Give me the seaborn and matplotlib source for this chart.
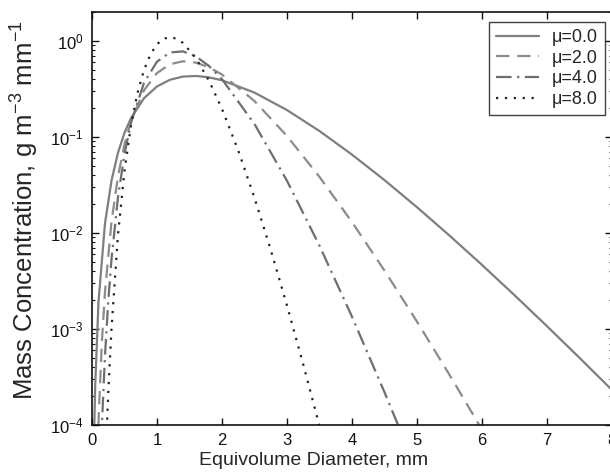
import matplotlib
matplotlib.use("Agg")
import matplotlib.pyplot as plt
import seaborn as sns
from matplotlib.ticker import LogLocator, FixedLocator

# Mass concentration spectra (g m^-3 mm^-1) for gamma drop size distributions
d_mu0 = [0.03, 0.04, 0.05, 0.1, 0.2, 0.3, 0.4, 0.5, 0.6, 0.8, 1.0, 1.2, 1.4, 1.6,
         1.8, 2.0, 2.5, 3.0, 3.5, 4.0, 4.5, 5.0, 5.5, 6.0, 6.5, 7.0, 7.5, 8.0]
m_mu0 = [5.9e-5, 1.37e-4, 2.62e-4, 1.905e-3, 0.01256, 0.03495, 0.0683, 0.110, 0.1567,
         0.2526, 0.3353, 0.3938, 0.4251, 0.4314, 0.4174, 0.3893, 0.2896, 0.1907,
         0.1154, 0.0656, 0.0356, 0.0186, 9.43e-3, 4.67e-3, 2.26e-3, 1.075e-3,
         5.04e-4, 2.33e-4]

d_mu2 = [0.08, 0.1, 0.15, 0.2, 0.3, 0.4, 0.5, 0.6, 0.8, 1.0, 1.2, 1.4, 1.6, 1.8, 2.0,
         2.5, 3.0, 3.5, 4.0, 4.5, 5.0, 5.5, 6.0, 6.1]
m_mu2 = [3.6e-5, 1.08e-4, 6.88e-4, 2.434e-3, 0.01302, 0.0387, 0.0832, 0.146, 0.3053,
         0.4626, 0.5716, 0.6135, 0.5937, 0.5314, 0.4468, 0.2369, 0.1025, 0.0385,
         0.01304, 4.08e-3, 1.201e-3, 3.36e-4, 9.03e-5, 6.9e-5]

d_mu4 = [0.13, 0.15, 0.2, 0.25, 0.3, 0.4, 0.5, 0.6, 0.8, 1.0, 1.2, 1.4, 1.6, 1.8,
         2.0, 2.5, 3.0, 3.5, 4.0, 4.5, 4.75]
m_mu4 = [3.4e-5, 9.15e-5, 5.26e-4, 1.93e-3, 5.31e-3, 0.0235, 0.0661, 0.140, 0.3654,
         0.6071, 0.7582, 0.7774, 0.6899, 0.5483, 0.3996, 0.1367, 0.0351, 7.41e-3,
         1.353e-3, 2.21e-4, 8.65e-5]

d_mu8 = [0.2, 0.25, 0.3, 0.4, 0.5, 0.6, 0.7, 0.8, 0.9, 1.0, 1.1, 1.2, 1.3, 1.4, 1.6,
         1.8, 2.0, 2.25, 2.5, 2.75, 3.0, 3.25, 3.5]
m_mu8 = [2.9e-5, 2.13e-4, 1.0e-3, 9.5e-3, 0.0441, 0.1311, 0.2856, 0.4961, 0.7242,
         0.9224, 1.052, 1.095, 1.055, 0.9535, 0.6617, 0.3863, 0.1967, 0.0726,
         0.02335, 6.73e-3, 1.77e-3, 4.32e-4, 9.85e-5]

labels = ["\u03bc=0.0", "\u03bc=2.0", "\u03bc=4.0", "\u03bc=8.0"]
x_ticks = [0, 1, 2, 3, 4, 5, 6, 7, 8]

sns.set_style("ticks")
plt.rcParams["font.family"] = ["Liberation Sans", "DejaVu Sans"]
plt.rcParams["mathtext.fontset"] = "custom"
plt.rcParams["mathtext.rm"] = "Liberation Sans"
plt.rcParams["mathtext.it"] = "Liberation Sans:italic"
plt.rcParams["mathtext.bf"] = "Liberation Sans:bold"

fig = plt.figure(figsize=(6.10, 4.72), dpi=100)
ax = fig.add_axes([0.1508, 0.0996, 0.852, 0.875])

series = [
    (d_mu0, m_mu0, "#7f7f7f", "-"),
    (d_mu2, m_mu2, "#8c8c8c", (0, (6, 3.5))),
    (d_mu4, m_mu4, "#6e6e6e", (0, (7, 2.5, 1, 2.5))),
    (d_mu8, m_mu8, "#222222", (0, (1, 3))),
]
for (d, m, c, ls), lab in zip(series, labels):
    sns.lineplot(x=d, y=m, ax=ax, color=c, linestyle=ls, linewidth=1.6,
                 label=lab, sort=False)

ax.set_yscale("log")
ax.set_xlim(0, 8)
ax.set_ylim(1e-4, 2.0)
ax.xaxis.set_major_locator(FixedLocator(x_ticks))
ax.set_xticklabels([str(t) for t in x_ticks])
ax.yaxis.set_major_locator(LogLocator(base=10, numticks=10))
ax.yaxis.set_minor_locator(LogLocator(base=10, subs=range(2, 10), numticks=20))

ax.tick_params(which="both", direction="in", top=True, right=True,
               labelsize=12, colors="#111111")
ax.tick_params(which="major", length=5, width=1.0, pad=6)
ax.tick_params(which="minor", length=2.5, width=0.8)
for s in ax.spines.values():
    s.set_linewidth(1.2)
    s.set_color("#111111")

ax.set_xlabel("Equivolume Diameter, mm", fontsize=14)
ax.xaxis.set_label_coords(0.427, -0.065)
ax.set_ylabel("Mass Concentration, g m$^{-3}$ mm$^{-1}$", fontsize=18.5)
ax.yaxis.set_label_coords(-0.098, 0.52)

leg = ax.legend(loc="upper right", bbox_to_anchor=(0.987, 0.976), borderaxespad=0,
                fontsize=13, frameon=True, fancybox=False, handlelength=2.4,
                borderpad=0.4, labelspacing=0.2, handletextpad=0.7)
leg.get_frame().set_edgecolor("#111111")
leg.get_frame().set_linewidth(1.0)

fig.savefig("out.png", dpi=100)
